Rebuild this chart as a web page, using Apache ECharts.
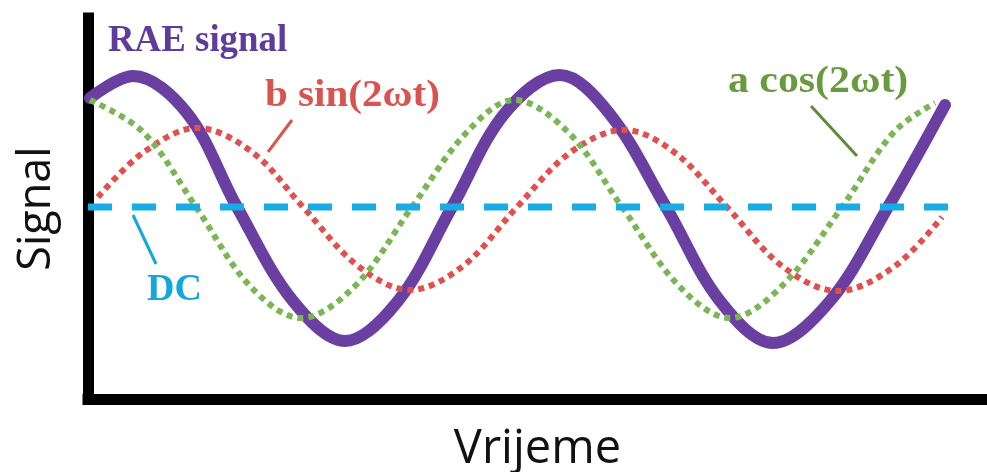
<!DOCTYPE html>
<html>
<head>
<meta charset="utf-8">
<script src="https://cdn.jsdelivr.net/npm/echarts@6/dist/echarts.min.js"></script>
<style>
html,body{margin:0;padding:0;background:#fff;}
#chart{width:987px;height:472px;}
</style>
</head>
<body>
<div id="chart"></div>
<script>
// time (arbitrary units) and signal values
const raeSignal = [
  [2,301],[45,323],[99,286],[149,192],[205,98],[257,58],[310,98],[364,192],[417,286],
  [472,324],[521,286],[578,192],[632,98],[685,56],[742,98],[800,192],[857,294]
];
const cosComponent = [
  [2,299],[55,267],[108,192],[162,113],[213,81],[267,113],[324,192],[379,267],[426,299],
  [480,267],[534,192],[591,113],[642,81],[694,113],[754,192],[806,267],[847,296]
];
const sinComponent = [
  [10,202],[56,247],[109,271],[164,247],[215,192],[270,133],[322,109],[375,133],[429,192],
  [483,247],[536,269],[586,247],[639,192],[694,133],[750,108],[807,133],[854,182]
];
const dcComponent = [[0,192],[864,192]];
const axisNames = { x: 'Vrijeme', y: 'Signal' };
const labels = { rae: 'RAE signal', sin: 'b sin(2ωt)', cos: 'a cos(2ωt)', dc: 'DC' };

const chart = echarts.init(document.getElementById('chart'), null, {renderer: 'canvas'});
const serif = '"Liberation Serif", "DejaVu Serif", serif';
const sans = '"Open Sans", "Noto Sans", sans-serif';

function label(text, x, y, color, scaleX) {
  return { type: 'text', z: 10, x: x, y: y, scaleX: scaleX || 1,
    style: { text: text, x: 0, y: 0, align: 'left', verticalAlign: 'middle',
      fontFamily: serif, fontWeight: 'bold', fontSize: 38, fill: color } };
}

chart.setOption({
  animation: false,
  backgroundColor: '#ffffff',
  grid: { left: 88, right: 0, top: 18, bottom: 73, containLabel: false, outerBoundsMode: 'none' },
  xAxis: {
    type: 'value', min: 0, max: 899,
    name: axisNames.x, nameLocation: 'middle', nameGap: 27,
    nameTextStyle: { fontFamily: sans, fontSize: 47, color: '#111' },
    axisLine: { onZero: false, lineStyle: { color: '#000', width: 11, cap: 'square' } },
    axisTick: { show: false }, axisLabel: { show: false }, splitLine: { show: false }
  },
  yAxis: {
    type: 'value', min: 0, max: 381,
    name: axisNames.y, nameLocation: 'middle', nameGap: 28, nameRotate: 90,
    nameTextStyle: { fontFamily: sans, fontSize: 45, color: '#111' },
    axisLine: { show: true, onZero: false, lineStyle: { color: '#000', width: 11, cap: 'square' } },
    axisTick: { show: false }, axisLabel: { show: false }, splitLine: { show: false }
  },
  series: [
    { name: labels.rae, type: 'line', data: raeSignal, smooth: 0.35, showSymbol: false, clip: false, z: 2,
      lineStyle: { color: '#6a3fa2', width: 12, cap: 'round' } },
    { name: labels.sin, type: 'line', data: sinComponent, smooth: 0.35, showSymbol: false, clip: false, z: 3,
      lineStyle: { color: '#e0504d', width: 6, type: [6, 5] } },
    { name: labels.cos, type: 'line', data: cosComponent, smooth: 0.35, showSymbol: false, clip: false, z: 4,
      lineStyle: { color: '#7ab655', width: 6, type: [6, 5] } },
    { name: labels.dc, type: 'line', data: dcComponent, showSymbol: false, clip: false, z: 5,
      lineStyle: { color: '#17ade4', width: 7, type: [24, 20] } }
  ],
  graphic: [
    label(labels.rae, 108, 41, '#5f3c9c', 0.97),
    label(labels.sin, 265, 96, '#d9534f', 1.08),
    label(labels.cos, 728, 82, '#6a9a40', 1.1),
    label(labels.dc, 147, 290, '#14a6dc', 1),
    { type: 'line', z: 10, shape: { x1: 292, y1: 120, x2: 268, y2: 152 }, style: { stroke: '#d9534f', lineWidth: 3 } },
    { type: 'line', z: 10, shape: { x1: 811, y1: 106, x2: 857, y2: 156 }, style: { stroke: '#5e8c3a', lineWidth: 3 } },
    { type: 'line', z: 10, shape: { x1: 133, y1: 215, x2: 156, y2: 264 }, style: { stroke: '#14a6dc', lineWidth: 3 } }
  ]
});
</script>
</body>
</html>
